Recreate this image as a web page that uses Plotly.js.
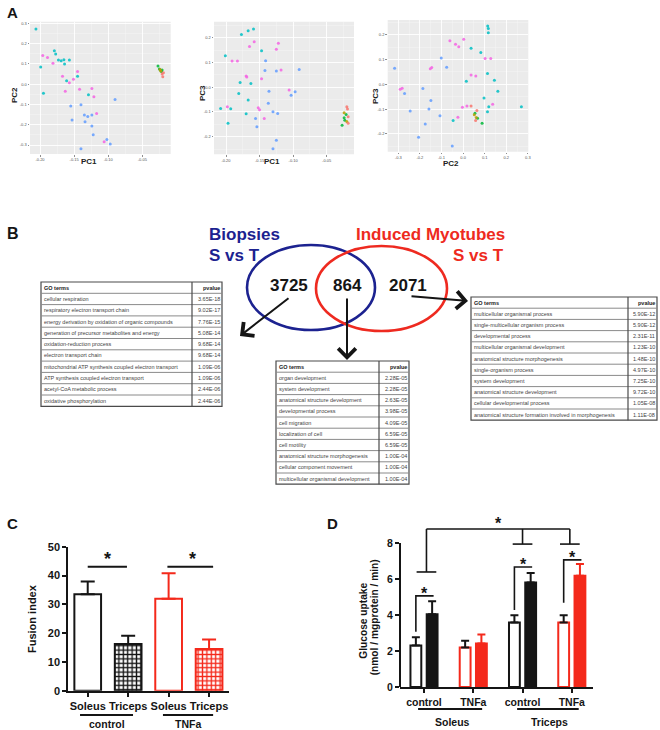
<!DOCTYPE html>
<html><head><meta charset="utf-8">
<script src="https://cdn.plot.ly/plotly-3.0.1.min.js"></script>
<style>html,body{margin:0;padding:0;background:#fff}#chart{width:660px;height:730px}</style>
</head><body><div id="chart"></div>
<script>
// ---------------- Panel A data (PCA scores) ----------------
const a1Teal = [[-0.206,0.272],[-0.199,0.085],[-0.179,0.165],[-0.177,0.149],[-0.173,0.119],[-0.169,0.116],[-0.165,0.121],[-0.164,0.099],[-0.157,0.119],[-0.161,0.017],[-0.145,0.039],[-0.195,-0.044],[-0.129,-0.052]];
const a1Pink = [[-0.196,0.142],[-0.189,0.132],[-0.181,0.103],[-0.167,0.039],[-0.157,0.007],[-0.151,0.024],[-0.145,0.062],[-0.163,-0.035],[-0.142,-0.025],[-0.124,-0.021],[-0.121,-0.062],[-0.117,-0.144],[-0.106,-0.284]];
const a1Blue = [[-0.155,-0.108],[-0.140,-0.101],[-0.153,-0.177],[-0.135,-0.152],[-0.130,-0.159],[-0.124,-0.152],[-0.134,-0.185],[-0.124,-0.206],[-0.122,-0.249],[-0.102,-0.272],[-0.097,-0.295],[-0.140,-0.318],[-0.090,-0.075]];
const a1Green = [[-0.027,0.090],[-0.025,0.075],[-0.023,0.067],[-0.022,0.062],[-0.021,0.070]];
const a1Olive = [[-0.023,0.065],[-0.024,0.072]];
const a1Red = [[-0.019,0.057],[-0.021,0.050],[-0.020,0.037]];

const a2Teal = [[-0.177,0.213],[-0.167,0.228],[-0.159,0.235],[-0.147,0.147],[-0.201,0.127],[-0.179,0.019],[-0.163,0.015],[-0.181,-0.025],[-0.167,-0.052],[-0.208,-0.086],[-0.193,-0.087],[-0.170,-0.107],[-0.197,-0.146]];
const a2Pink = [[-0.165,0.164],[-0.158,0.184],[-0.122,0.177],[-0.125,0.153],[-0.191,0.106],[-0.183,0.106],[-0.170,0.045],[-0.169,0.041],[-0.147,0.034],[-0.118,0.069],[-0.152,-0.083],[-0.150,-0.091],[-0.143,-0.126],[-0.106,-0.011],[-0.198,-0.079]];
const a2Blue = [[-0.141,0.107],[-0.142,0.067],[-0.125,0.065],[-0.091,0.071],[-0.136,-0.016],[-0.137,-0.065],[-0.103,-0.033],[-0.097,-0.018],[-0.123,-0.106],[-0.130,-0.099],[-0.156,-0.126],[-0.154,-0.160],[-0.125,-0.214],[-0.130,-0.249]];
const a2Green = [[-0.027,-0.154],[-0.021,-0.110],[-0.023,-0.133],[-0.024,-0.123]];
const a2Olive = [[-0.024,-0.103],[-0.020,-0.139]];
const a2Red = [[-0.020,-0.079],[-0.019,-0.088],[-0.018,-0.119],[-0.018,-0.146]];

const a3Teal = [[0.114,0.236],[0.117,0.226],[0.117,0.209],[0.037,0.146],[0.082,0.129],[0.113,0.044],[0.145,0.017],[0.161,-0.028],[0.097,-0.055],[0.119,-0.090],[0.113,-0.111],[0.015,0.013],[-0.046,-0.146],[0.270,-0.090]];
const a3Pink = [[-0.061,0.176],[-0.035,0.162],[-0.020,0.152],[0.003,0.182],[0.102,0.104],[0.128,0.104],[0.037,0.038],[0.059,0.034],[-0.145,0.068],[-0.152,0.063],[-0.003,-0.092],[0.018,-0.087],[0.137,-0.080],[-0.024,-0.133],[-0.291,-0.020],[-0.282,-0.016]];
const a3Blue = [[-0.101,0.106],[-0.076,0.069],[-0.186,-0.017],[-0.149,-0.065],[-0.158,-0.100],[-0.245,-0.108],[-0.107,-0.127],[-0.175,-0.160],[-0.206,-0.214],[-0.050,-0.249],[-0.317,0.065],[-0.271,-0.037]];
const a3Green = [[0.055,-0.117],[0.067,-0.137],[0.088,-0.157]];
const a3Olive = [[0.061,-0.134],[0.052,-0.123]];
const a3Red = [[0.037,-0.087],[0.064,-0.106],[0.058,-0.146]];

const pc1TickVals = [-0.20,-0.15,-0.10,-0.05];
const pc1TickText = ['-0.20','-0.15','-0.10','-0.05'];
const pc1MinorVals = [-0.175,-0.125,-0.075,-0.025];
const pc2aTickVals = [-0.3,-0.2,-0.1,0,0.1,0.2,0.3];
const pc2aTickText = ['-0.3','-0.2','-0.1','0.0','0.1','0.2','0.3'];
const pc3TickVals = [-0.2,-0.1,0,0.1,0.2];
const pc3TickText = ['-0.2','-0.1','0.0','0.1','0.2'];
const halfStepVals = [-0.25,-0.15,-0.05,0.05,0.15,0.25];

// ---------------- Panel B data ----------------
const vennBiopsyOnly = '3725';
const vennShared = '864';
const vennMyotubeOnly = '2071';
const goHeader = ['GO terms', 'pvalue'];
const go1Terms = ['cellular respiration','respiratory electron transport chain','energy derivation by oxidation of organic compounds','generation of precursor metabolites and energy','oxidation-reduction process','electron transport chain','mitochondrial ATP synthesis coupled electron transport','ATP synthesis coupled electron transport','acetyl-CoA metabolic process','oxidative phosphorylation'];
const go1P = ['3.65E-18','9.02E-17','7.76E-15','5.08E-14','9.68E-14','9.68E-14','1.09E-06','1.09E-06','2.44E-06','2.44E-06'];
const go2Terms = ['organ development','system development','anatomical structure development','developmental process','cell migration','localization of cell','cell motility','anatomical structure morphogenesis','cellular component movement','multicellular organismal development'];
const go2P = ['2.28E-05','2.28E-05','2.63E-05','3.98E-05','4.09E-05','6.59E-05','6.59E-05','1.00E-04','1.00E-04','1.00E-04'];
const go3Terms = ['multicellular organismal process','single-multicellular organism process','developmental process','multicellular organismal development','anatomical structure morphogenesis','single-organism process','system development','anatomical structure development','cellular developmental process','anatomical structure formation involved in morphogenesis'];
const go3P = ['5.90E-12','5.90E-12','2.31E-11','1.23E-10','1.48E-10','4.97E-10','7.25E-10','9.72E-10','1.05E-08','1.11E-08'];

// ---------------- Panel C data ----------------
const cCats = ['Soleus','Triceps','Soleus','Triceps'];
const cGroups = ['control','TNFa'];
const cControl = [33.5, 16.2];
const cControlErr = [4.4, 2.9];
const cTnfa = [31.9, 14.5];
const cTnfaErr = [8.9, 3.3];

// ---------------- Panel D data ----------------
const dCats = ['control','TNFa','control','TNFa'];
const dMuscles = ['Soleus','Triceps'];
const dBasal = [2.30, 2.20, 3.58, 3.59];
const dBasalErr = [0.46, 0.37, 0.40, 0.39];
const dInsulin = [4.04, 2.41, 5.80, 6.18];
const dInsulinErr = [0.73, 0.50, 0.53, 0.65];
const dSigGroups = [0, 2, 3];
const dSigLow = [3.07, 4.28, 4.68];
const dSigHigh = [5.06, 6.67, 7.06];

// ---------------- helpers ----------------
const W = 660, H = 730;
const px = v => v / W;
const py = v => 1 - v / H;
const FONT = 'Arial, "Liberation Sans", Helvetica, sans-serif';
const BLACK = '#151515';
const RED = '#f4291b';
const VBLUE = '#1c2290';
const VRED = '#ee2a20';
const COLORS = {teal:'#00BFC4', pink:'#F564E3', blue:'#619CFF', green:'#00BA38', olive:'#B79F00', red:'#F8766D'};

const traces = [];
const shapes = [];
const ann = [];

function pts(arr, color, xa, ya) {
  traces.push({type:'scatter', mode:'markers', x: arr.map(p => p[0]), y: arr.map(p => p[1]),
    xaxis: xa, yaxis: ya, marker:{size:3, color: color, opacity:0.85}, hoverinfo:'skip', showlegend:false});
}
[[a1Teal,'teal'],[a1Pink,'pink'],[a1Blue,'blue'],[a1Green,'green'],[a1Olive,'olive'],[a1Red,'red']].forEach(d => pts(d[0], COLORS[d[1]], 'x', 'y'));
[[a2Teal,'teal'],[a2Pink,'pink'],[a2Blue,'blue'],[a2Green,'green'],[a2Olive,'olive'],[a2Red,'red']].forEach(d => pts(d[0], COLORS[d[1]], 'x2', 'y2'));
[[a3Teal,'teal'],[a3Pink,'pink'],[a3Blue,'blue'],[a3Green,'green'],[a3Olive,'olive'],[a3Red,'red']].forEach(d => pts(d[0], COLORS[d[1]], 'x3', 'y3'));

function ggAxis(domain, range, tv, tt, minor, anchor) {
  return {domain: domain, range: range, anchor: anchor, tickmode:'array', tickvals: tv, ticktext: tt,
    showgrid:true, gridcolor:'#ffffff', gridwidth:0.9, zeroline:false, showline:false,
    ticks:'outside', ticklen:1.5, tickwidth:0.6, tickcolor:'#444',
    tickfont:{family: FONT, size:4, color:'#555'},
    minor:{tickmode:'array', tickvals: minor, showgrid:true, gridcolor:'#f6f6f6', gridwidth:0.5, ticks:''}};
}

function txt(text, x, y, size, color, opts) {
  ann.push(Object.assign({text: text, x: x, y: y, xref:'paper', yref:'paper', showarrow:false,
    font:{family: FONT, size: size, color: color, weight:700}, xanchor:'center', yanchor:'middle'}, opts || {}));
}

// GO term tables drawn with shapes and text
function goTable(terms, pvals, x0, xs, x1, y0, rowH) {
  const rows = [goHeader].concat(terms.map((t, i) => [t, pvals[i]]));
  const y1 = y0 + rowH * rows.length;
  shapes.push({type:'rect', xref:'paper', yref:'paper', x0:px(x0), x1:px(x1), y0:py(y1), y1:py(y0),
    line:{color:'#4a4a4a', width:1.2}, fillcolor:'#ffffff'});
  for (let i = 1; i < rows.length; i++) {
    const yy = py(y0 + i * rowH);
    shapes.push({type:'line', xref:'paper', yref:'paper', x0:px(x0), x1:px(x1), y0:yy, y1:yy, line:{color:'#8a8a8a', width:1}});
  }
  shapes.push({type:'line', xref:'paper', yref:'paper', x0:px(xs), x1:px(xs), y0:py(y1), y1:py(y0), line:{color:'#4a4a4a', width:1.2}});
  rows.forEach((r, i) => {
    const yc = py(y0 + (i + 0.5) * rowH);
    const isHead = i === 0;
    const f = {family: FONT, size:5.5, color: isHead ? '#222' : '#444', weight: isHead ? 700 : 400};
    ann.push({text: r[0], x: px(x0 + 1.5), y: yc, xref:'paper', yref:'paper', showarrow:false, xanchor:'left', yanchor:'middle', borderpad:0, font: f});
    ann.push({text: r[1], x: px(x1 - 1.5), y: yc, xref:'paper', yref:'paper', showarrow:false, xanchor:'right', yanchor:'middle', borderpad:0, font: f});
  });
}
goTable(go1Terms, go1P, 41, 192, 222, 282, 11.3);
goTable(go2Terms, go2P, 276, 379, 409, 361, 11.2);
goTable(go3Terms, go3P, 471, 628, 657, 297, 11.2);

// Panel C bars
function cBars(vals, errs, xs, color) {
  traces.push({type:'bar', x: xs, y: vals, xaxis:'x4', yaxis:'y4', width:0.66,
    marker:{color:'#ffffff', line:{color: color, width:2},
      pattern:{shape: xs.map((x, i) => i === 0 ? '' : '+'), fgcolor: color, bgcolor:'#ffffff', size:4.4, solidity:0.52}},
    error_y:{type:'data', symmetric:false, array: errs, arrayminus: errs.map(() => 0), color: color, thickness:2, width:7},
    hoverinfo:'skip', showlegend:false});
}
cBars(cControl, cControlErr, [0, 1], BLACK);
cBars(cTnfa, cTnfaErr, [2, 3], RED);

// Panel D bars
const dIdx = dCats.map((c, i) => i);
const dLineCol = dCats.map(c => c === 'control' ? BLACK : RED);
traces.push({type:'bar', x: dIdx, y: dBasal, xaxis:'x5', yaxis:'y5', width:0.22, offset:-0.275,
  marker:{color:'#ffffff', line:{color: dLineCol, width:2}},
  error_y:{type:'data', symmetric:false, array: dBasalErr, arrayminus: dBasalErr.map(() => 0), color: BLACK, thickness:2, width:4},
  hoverinfo:'skip', showlegend:false});
['control','TNFa'].forEach(cond => {
  const ids = dIdx.filter(i => dCats[i] === cond);
  const col = cond === 'control' ? BLACK : RED;
  traces.push({type:'bar', x: ids, y: ids.map(i => dInsulin[i]), xaxis:'x5', yaxis:'y5', width:0.22, offset:0.055,
    marker:{color: col, line:{color: col, width:2}},
    error_y:{type:'data', symmetric:false, array: ids.map(i => dInsulinErr[i]), arrayminus: ids.map(() => 0), color: col, thickness:2, width:4},
    hoverinfo:'skip', showlegend:false});
});

// ---------------- shapes & annotations ----------------
['', '2', '3'].forEach(n => shapes.push({type:'rect', xref:'x' + n + ' domain', yref:'y' + n + ' domain', x0:0, x1:1, y0:0, y1:1,
  fillcolor:'#EBEBEB', line:{width:0}, layer:'below'}));

// panel letters
txt('A', px(13), py(12), 15, BLACK);
txt('B', px(13), py(233), 16, BLACK);
txt('C', px(13), py(523), 15, BLACK);
txt('D', px(332), py(523), 15, BLACK);
// panel A axis titles
txt('PC1', px(88.5), py(162), 8, '#222');
txt('PC2', px(15), py(95), 8, '#222', {textangle:-90});
txt('PC1', px(272), py(162), 8, '#222');
txt('PC3', px(203), py(93), 8, '#222', {textangle:-90});
txt('PC2', px(451), py(163), 8, '#222');
txt('PC3', px(375), py(96), 8, '#222', {textangle:-90});

// Venn
shapes.push({type:'circle', xref:'paper', yref:'paper', x0:px(247), x1:px(375), y0:py(330), y1:py(245), line:{color: VBLUE, width:2.6}});
shapes.push({type:'circle', xref:'paper', yref:'paper', x0:px(316), x1:px(447), y0:py(331), y1:py(246), line:{color: VRED, width:2.6}});
txt('Biopsies', px(207), py(235), 17, VBLUE, {xanchor:'left'});
txt('S vs T', px(207), py(255), 17, VBLUE, {xanchor:'left'});
txt('Induced Myotubes', px(354), py(235), 17, VRED, {xanchor:'left'});
txt('S vs T', px(506), py(255), 17, VRED, {xanchor:'right'});
txt(vennBiopsyOnly, px(289), py(285), 17, BLACK);
txt(vennShared, px(348), py(285), 17, BLACK);
txt(vennMyotubeOnly, px(408), py(285), 17, BLACK);
function arrow(tx, ty, hx, hy) {
  ann.push({x: px(hx), y: py(hy), ax: px(tx), ay: py(ty), xref:'paper', yref:'paper', axref:'paper', ayref:'paper',
    text:'', showarrow:true, arrowhead:4, arrowsize:1.7, arrowwidth:2, arrowcolor: BLACK});
}
arrow(290, 297, 240, 336);
arrow(347, 297, 347, 360);
arrow(410, 296, 468, 301);

// Panel C annotations
txt('Fusion index', px(32), py(619), 11, BLACK, {textangle:-90});
[[0, 0.97, 0.48], [1.97, 3.1, 2.58]].forEach(s => {
  shapes.push({type:'line', xref:'x4', yref:'y4', x0:s[0], x1:s[1], y0:43, y1:43, line:{color: BLACK, width:2}});
  ann.push({text:'*', x:s[2], y:41.6, xref:'x4', yref:'y4', showarrow:false, yanchor:'bottom', font:{family: FONT, size:18, color: BLACK, weight:700}});
});
[[-0.19, 1.12, 0.48], [1.86, 3.1, 2.48]].forEach((g, i) => {
  shapes.push({type:'line', xref:'x4', yref:'paper', x0:g[0], x1:g[1], y0:py(715), y1:py(715), line:{color: BLACK, width:2}});
  ann.push({text: cGroups[i], x:g[2], y:py(723.5), xref:'x4', yref:'paper', showarrow:false, yanchor:'middle', borderpad:0,
    font:{family: FONT, size:10.5, color: BLACK, weight:700}});
});

// Panel D annotations
txt('Glucose uptake', px(362.7), py(621), 10.2, BLACK, {textangle:-90});
txt('(nmol / mgprotein / min)', px(374.3), py(617), 10.2, BLACK, {textangle:-90});
shapes.push({type:'line', xref:'x5 domain', yref:'y5', x0:0, x1:0, y0:0, y1:8, line:{color: BLACK, width:2}});
const dOff = 0.165;
dSigGroups.forEach((g, i) => {
  shapes.push({type:'path', xref:'x5', yref:'y5',
    path:'M' + (g - dOff) + ',' + dSigLow[i] + ' L' + (g - dOff) + ',' + dSigHigh[i] + ' L' + (g + dOff + 0.03) + ',' + dSigHigh[i],
    line:{color: BLACK, width:1.6}});
  ann.push({text:'*', x:g + 0.02, y:dSigHigh[i] - 0.45, xref:'x5', yref:'y5', showarrow:false, yanchor:'bottom', font:{family: FONT, size:16, color: BLACK, weight:700}});
});
// overall bracket
const topY = 8.78, legs = [[0.05, 6.39], [2.0, 7.94], [2.96, 7.94]];
shapes.push({type:'line', xref:'x5', yref:'y5', x0:legs[0][0], x1:legs[2][0], y0:topY, y1:topY, line:{color: BLACK, width:1.6}});
legs.forEach(l => {
  shapes.push({type:'line', xref:'x5', yref:'y5', x0:l[0], x1:l[0], y0:l[1], y1:topY, line:{color: BLACK, width:1.6}});
  shapes.push({type:'line', xref:'x5', yref:'y5', x0:l[0] - 0.2, x1:l[0] + 0.2, y0:l[1], y1:l[1], line:{color: BLACK, width:1.6}});
});
ann.push({text:'*', x:1.52, y:topY - 0.3, xref:'x5', yref:'y5', showarrow:false, yanchor:'bottom', font:{family: FONT, size:16, color: BLACK, weight:700}});
[[-0.12, 1.18, 0.57], [1.89, 3.14, 2.54]].forEach((g, i) => {
  shapes.push({type:'line', xref:'x5', yref:'paper', x0:g[0], x1:g[1], y0:py(709), y1:py(709), line:{color: BLACK, width:2}});
  ann.push({text: dMuscles[i], x:g[2], y:py(722), xref:'x5', yref:'paper', showarrow:false, yanchor:'middle', borderpad:0,
    font:{family: FONT, size:10.5, color: BLACK, weight:700}});
});

const barAxisFont = {family: FONT, size:11, color: BLACK, weight:700};
const layout = {
  width: W, height: H, margin:{l:0, r:0, t:0, b:0}, paper_bgcolor:'#ffffff', plot_bgcolor:'rgba(0,0,0,0)',
  showlegend:false, barmode:'overlay',
  xaxis: ggAxis([px(30), px(170.7)], [-0.2147, -0.0084], pc1TickVals, pc1TickText, pc1MinorVals, 'y'),
  yaxis: ggAxis([py(154), py(21.7)], [-0.344, 0.308], pc2aTickVals, pc2aTickText, halfStepVals, 'x'),
  xaxis2: ggAxis([px(214), px(354)], [-0.2179, -0.0093], pc1TickVals, pc1TickText, pc1MinorVals, 'y2'),
  yaxis2: ggAxis([py(154.3), py(21.7)], [-0.271, 0.2645], pc3TickVals, pc3TickText, halfStepVals, 'x2'),
  xaxis3: ggAxis([px(387.7), px(528.3)], [-0.349, 0.302], pc2aTickVals, pc2aTickText, halfStepVals, 'y3'),
  yaxis3: ggAxis([py(151.7), py(20)], [-0.272, 0.26], pc3TickVals, pc3TickText, halfStepVals, 'x3'),
  xaxis4: {domain:[px(68.3), px(229.3)], range:[-0.48, 3.5], anchor:'y4', tickmode:'array', tickvals:[0,1,2,3], ticktext: cCats,
    showline:true, linewidth:2, linecolor: BLACK, ticks:'outside', ticklen:4, tickwidth:2, tickcolor: BLACK,
    showgrid:false, zeroline:false, tickfont: barAxisFont},
  yaxis4: {domain:[py(690.7), py(546.7)], range:[0, 50], anchor:'x4', tickmode:'array', tickvals:[0,10,20,30,40,50],
    showline:true, linewidth:2, linecolor: BLACK, ticks:'outside', ticklen:4, tickwidth:2, tickcolor: BLACK,
    showgrid:false, zeroline:false, tickfont: barAxisFont},
  xaxis5: {domain:[px(400), px(593)], range:[-0.487, 3.43], anchor:'y5', tickmode:'array', tickvals:[0,1,2,3], ticktext: dCats,
    showline:true, linewidth:2, linecolor: BLACK, ticks:'outside', ticklen:4, tickwidth:2, tickcolor: BLACK,
    showgrid:false, zeroline:false, tickfont:{family: FONT, size:10.5, color: BLACK, weight:700}},
  yaxis5: {domain:[py(687), py(525)], range:[0, 9], anchor:'x5', tickmode:'array', tickvals:[0,2,4,6,8],
    showline:false, ticks:'outside', ticklen:4, tickwidth:2, tickcolor: BLACK,
    showgrid:false, zeroline:false, tickfont:{family: FONT, size:10.5, color: BLACK, weight:700}},
  shapes: shapes, annotations: ann
};
Plotly.newPlot('chart', traces, layout, {staticPlot:true, displayModeBar:false});
</script></body></html>
